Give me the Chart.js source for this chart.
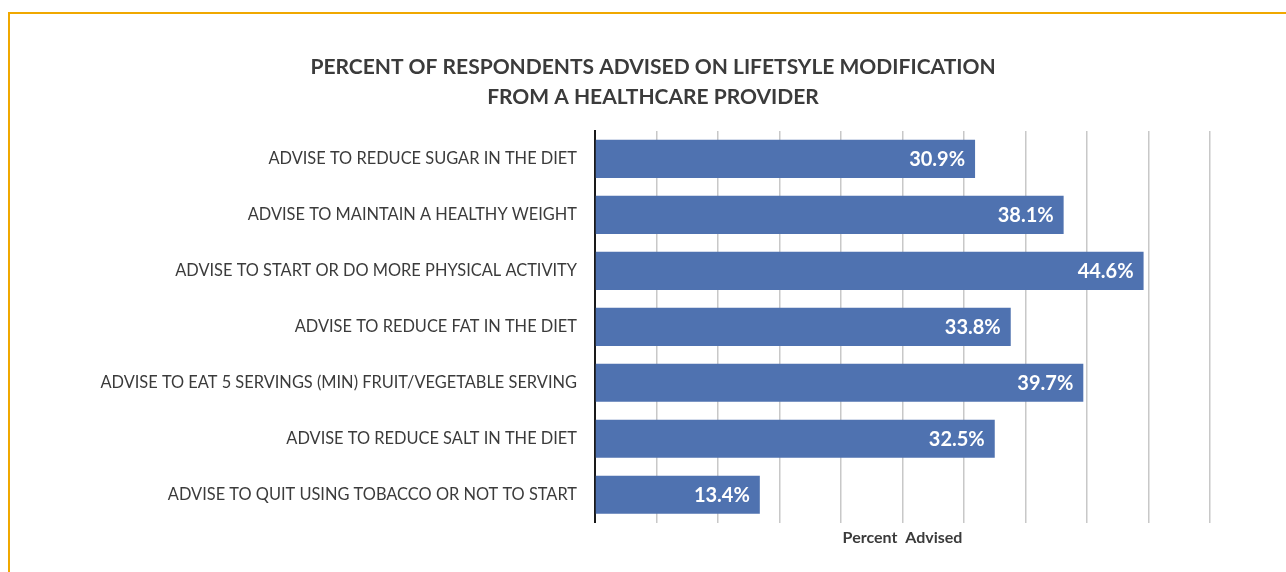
<!DOCTYPE html>
<html>
<head>
<meta charset="utf-8">
<title>Lifestyle advice</title>
<script src="https://cdn.jsdelivr.net/npm/chart.js@4.4.1/dist/chart.umd.min.js"></script>
<style>
  html, body { margin: 0; padding: 0; background: #fff; overflow: hidden; }
  #wrap { position: relative; width: 1286px; height: 572px; }
  #frame {
    position: absolute; left: 8px; top: 12px; width: 1400px; height: 700px;
    border-top: 2px solid #f0a800; border-left: 2px solid #f0a800;
  }
  #usageChart { position: absolute; left: 0; top: 0; }
</style>
</head>
<body>
<div id="wrap">
  <div id="frame"></div>
  <canvas id="usageChart" width="1286" height="572"></canvas>
</div>
<script>
// categories, top to bottom
const categories = [
  'ADVISE TO REDUCE SUGAR IN THE DIET',
  'ADVISE TO MAINTAIN A HEALTHY WEIGHT',
  'ADVISE TO START OR DO MORE PHYSICAL ACTIVITY',
  'ADVISE TO REDUCE FAT IN THE DIET',
  'ADVISE TO EAT 5 SERVINGS (MIN) FRUIT/VEGETABLE SERVING',
  'ADVISE TO REDUCE SALT IN THE DIET',
  'ADVISE TO QUIT USING TOBACCO OR NOT TO START'
];
const percentAdvised = [30.9, 38.1, 44.6, 33.8, 39.7, 32.5, 13.4];
const titleLines = [
  'PERCENT OF RESPONDENTS ADVISED ON LIFETSYLE MODIFICATION',
  'FROM A HEALTHCARE PROVIDER'
];
const axisTitle = 'Percent  Advised';

const FONT = 'Lato, "Open Sans", sans-serif';

// white value text at the end of each bar
const barLabels = {
  id: 'barLabels',
  afterDatasetsDraw(chart) {
    const ctx = chart.ctx;
    const meta = chart.getDatasetMeta(0);
    ctx.save();
    ctx.fillStyle = '#ffffff';
    ctx.font = 'bold 20px ' + FONT;
    ctx.textAlign = 'right';
    ctx.textBaseline = 'middle';
    meta.data.forEach((bar, i) => {
      ctx.fillText(percentAdvised[i].toFixed(1) + '%', bar.x - 10, bar.y + 1);
    });
    ctx.restore();
  }
};

new Chart(document.getElementById('usageChart'), {
  type: 'bar',
  data: {
    labels: categories,
    datasets: [{
      data: percentAdvised,
      backgroundColor: '#4f72b0',
      borderWidth: 0,
      categoryPercentage: 1,
      barPercentage: 0.68
    }]
  },
  options: {
    indexAxis: 'y',
    responsive: false,
    devicePixelRatio: 1,
    animation: false,
    layout: { padding: { left: 66, right: 46, top: 42, bottom: 20 } },
    plugins: {
      legend: { display: false },
      tooltip: { enabled: false },
      title: {
        display: true,
        text: titleLines,
        color: '#3b3b3b',
        font: { family: FONT, size: 21, weight: 'bold', lineHeight: 1.45 },
        padding: { top: 10, bottom: 18 }
      }
    },
    scales: {
      x: {
        min: 0,
        max: 50,
        ticks: { display: false, stepSize: 5 },
        grid: { color: '#c8c8c8', lineWidth: 1.5, drawTicks: false },
        border: { display: false },
        title: {
          display: true,
          text: axisTitle,
          color: '#3b3b3b',
          font: { family: FONT, size: 16, weight: 'bold', lineHeight: 1.2 },
          padding: { top: 5, bottom: 5 }
        }
      },
      y: {
        afterFit(scale) { scale.width = 529; },
        ticks: {
          color: '#3b3b3b',
          padding: 18,
          font: { family: FONT, size: 16.4 }
        },
        grid: { color: 'transparent', drawTicks: false },
        border: { display: true, color: '#1a1a1a', width: 2 }
      },
      // empty strip on the right so the plot ends short of the title's right edge
      yRight: {
        type: 'linear',
        position: 'right',
        afterFit(scale) { scale.width = 30; },
        ticks: { display: false },
        grid: { display: false, drawTicks: false },
        border: { display: false }
      }
    }
  },
  plugins: [barLabels]
});
</script>
</body>
</html>
